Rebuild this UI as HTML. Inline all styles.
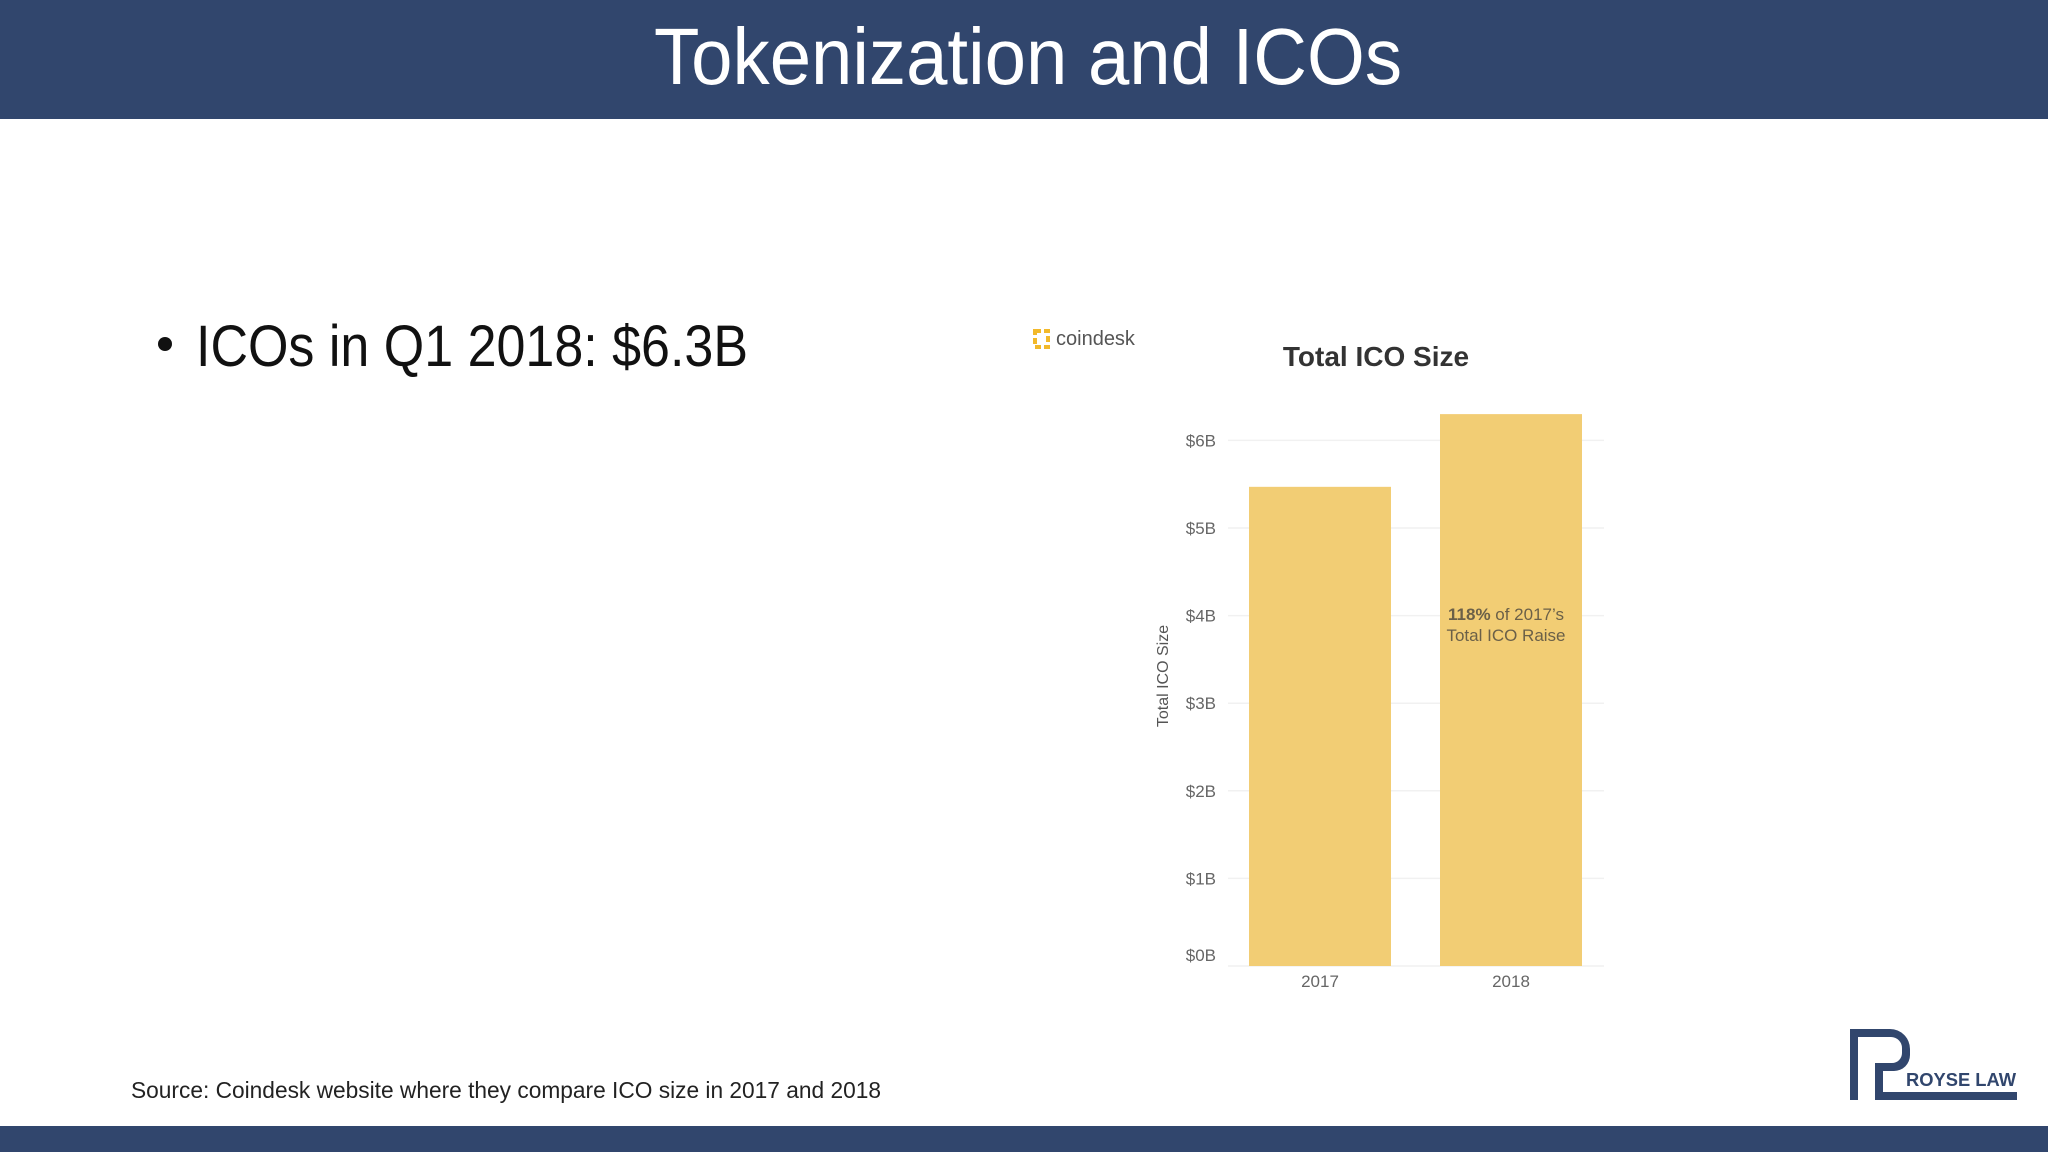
<!DOCTYPE html>
<html><head><meta charset="utf-8"><style>
html,body{margin:0;padding:0;background:#fff;}
svg{display:block;font-family:"Liberation Sans",sans-serif;}
</style></head><body>
<svg width="2048" height="1152" viewBox="0 0 2048 1152">
<rect x="0" y="0" width="2048" height="119" fill="#31466d"/>
<text x="1028" y="84" text-anchor="middle" font-size="80" fill="#fff" textLength="748" lengthAdjust="spacingAndGlyphs">Tokenization and ICOs</text>
<circle cx="165" cy="344" r="7" fill="#111"/>
<text x="196" y="366" font-size="58" fill="#111" textLength="552" lengthAdjust="spacingAndGlyphs">ICOs in Q1 2018: $6.3B</text>
<text x="131" y="1098" font-size="23" fill="#222" textLength="750" lengthAdjust="spacingAndGlyphs">Source: Coindesk website where they compare ICO size in 2017 and 2018</text>
<rect x="0" y="1126" width="2048" height="26" fill="#31466d"/>
<g fill="#31466d">
<path d="M1850 1029 H1890 A20 20 0 0 1 1910 1049 V1055 A16 16 0 0 1 1894 1071 H1883 V1092 H2017 V1100 H1875 V1063 H1892 A10 10 0 0 0 1902 1053 V1048 A11 11 0 0 0 1891 1037 H1858 V1100 H1850 Z"/>
<text x="1906" y="1086" font-size="18" font-weight="bold" textLength="110" lengthAdjust="spacingAndGlyphs">ROYSE LAW</text>
</g>
<g id="chart"></g>
</svg>
<script>
const categories = ["2017","2018"];
const values = [5.47, 6.3];
const tickValues = [0,1,2,3,4,5,6];
const tickLabels = ["$0B","$1B","$2B","$3B","$4B","$5B","$6B"];
const NS="http://www.w3.org/2000/svg";
const g=document.getElementById('chart');
function y(v){return 966-87.6*v;}
function xc(i){return 1320+i*191;}
function mk(tag,attrs,txt){const e=document.createElementNS(NS,tag);for(const k in attrs)e.setAttribute(k,attrs[k]);if(txt!==undefined)e.textContent=txt;g.appendChild(e);return e;}
let e=mk('rect',{x:1035,y:331,width:13,height:16,fill:'none',stroke:'#f2b92b','stroke-width':4,'stroke-dasharray':'6 3'});


e=mk('text',{x:1056,y:345,'font-size':20,fill:'#555'},'coindesk');


e=mk('text',{x:1376,y:366,'font-size':28,'font-weight':'bold',fill:'#333','text-anchor':'middle'},'Total ICO Size');


tickValues.forEach((t,i)=>{
  let l=mk('line',{x1:1228,x2:1604,y1:y(t),y2:y(t),stroke:'#f1f1f1','stroke-width':1.5});
  
  
  let ty = t===0 ? y(0)-11 : y(t);
  let tx=mk('text',{x:1216,y:ty+6,'font-size':17,fill:'#666','text-anchor':'end'},tickLabels[i]);
  
  
});
values.forEach((v,i)=>{
  let r=mk('rect',{x:xc(i)-71,y:y(v),width:142,height:y(0)-y(v),fill:'#f2cd74'});
  
  
  let t=mk('text',{x:xc(i),y:987,'font-size':17,fill:'#666','text-anchor':'middle'},categories[i]);
  
  
});
e=mk('text',{x:1506,y:620,'font-size':17,fill:'#6b6048','text-anchor':'middle'},'');
e.innerHTML='<tspan font-weight="bold">118%</tspan> of 2017\u2019s';


e=mk('text',{x:1506,y:641,'font-size':17,fill:'#6b6048','text-anchor':'middle'},'Total ICO Raise');


e=mk('text',{x:0,y:0,'font-size':16,fill:'#555','text-anchor':'middle',transform:'translate(1168,676) rotate(-90)'},'Total ICO Size');


</script>
</body></html>
